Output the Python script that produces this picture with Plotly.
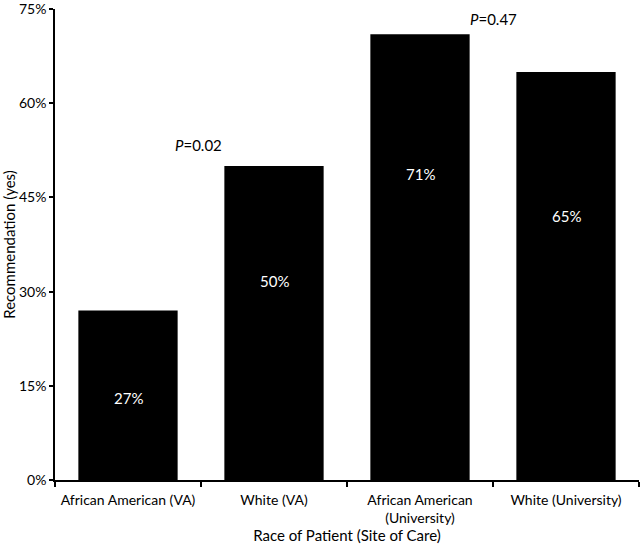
import plotly.graph_objects as go

categories = ["African American (VA)", "White (VA)", "African American<br>(University)", "White (University)"]
values = [27, 50, 71, 65]
value_labels = ["27%", "50%", "71%", "65%"]
y_ticks = [0, 15, 30, 45, 60, 75]
y_tick_labels = ["0%", "15%", "30%", "45%", "60%", "75%"]
p_labels = ["<i>P</i>=0.02", "<i>P</i>=0.47"]

FONT = "Lato"
label_y = [13.1, 31.7, 48.8, 42.0]

fig = go.Figure()
fig.add_trace(go.Bar(
    x=categories, y=values, width=0.68,
    marker=dict(color="black", line=dict(width=0)),
    hoverinfo="skip",
))

for cat, ly, txt in zip(categories, label_y, value_labels):
    fig.add_annotation(x=cat, y=ly, text=txt, showarrow=False,
                       font=dict(family=FONT, size=15, color="white"))

fig.add_annotation(x=1, xshift=-0.34 * 146, y=53.3, text=p_labels[0], showarrow=False,
                   xanchor="right", yanchor="middle",
                   font=dict(family=FONT, size=15, color="black"))
fig.add_annotation(x=2, xshift=0.34 * 146 - 2, y=73.4, text=p_labels[1], showarrow=False,
                   xanchor="left", yanchor="middle",
                   font=dict(family=FONT, size=15, color="black"))

fig.update_layout(
    width=640, height=547,
    margin=dict(l=55, r=1, t=9, b=67),
    plot_bgcolor="white", paper_bgcolor="white",
    showlegend=False,
    font=dict(family=FONT, size=14, color="black"),
    xaxis=dict(
        type="category", range=[-0.5, 3.5], automargin=False,
        showline=True, linecolor="black", linewidth=1.5,
        ticks="outside", tickson="boundaries", ticklen=5, tickwidth=1.5, tickcolor="black",
        ticklabelstandoff=6,
        showgrid=False, zeroline=False,
        tickfont=dict(family=FONT, size=14),
        title=dict(text="Race of Patient (Site of Care)", font=dict(family=FONT, size=15), standoff=6),
    ),
    yaxis=dict(
        range=[0, 75.02], tickvals=y_ticks, ticktext=y_tick_labels, automargin=False,
        ticklabeloverflow="allow",
        showline=True, linecolor="black", linewidth=1.5,
        ticks="outside", ticklen=4, tickwidth=1.5, tickcolor="black",
        showgrid=False, zeroline=False,
        tickfont=dict(family=FONT, size=14),
        title=dict(text="Recommendation (yes)", font=dict(family=FONT, size=15), standoff=4),
    ),
)

fig.write_html("out.html", config={"displayModeBar": False},
               post_script="document.body.style.margin='0';document.body.style.overflow='hidden';")
